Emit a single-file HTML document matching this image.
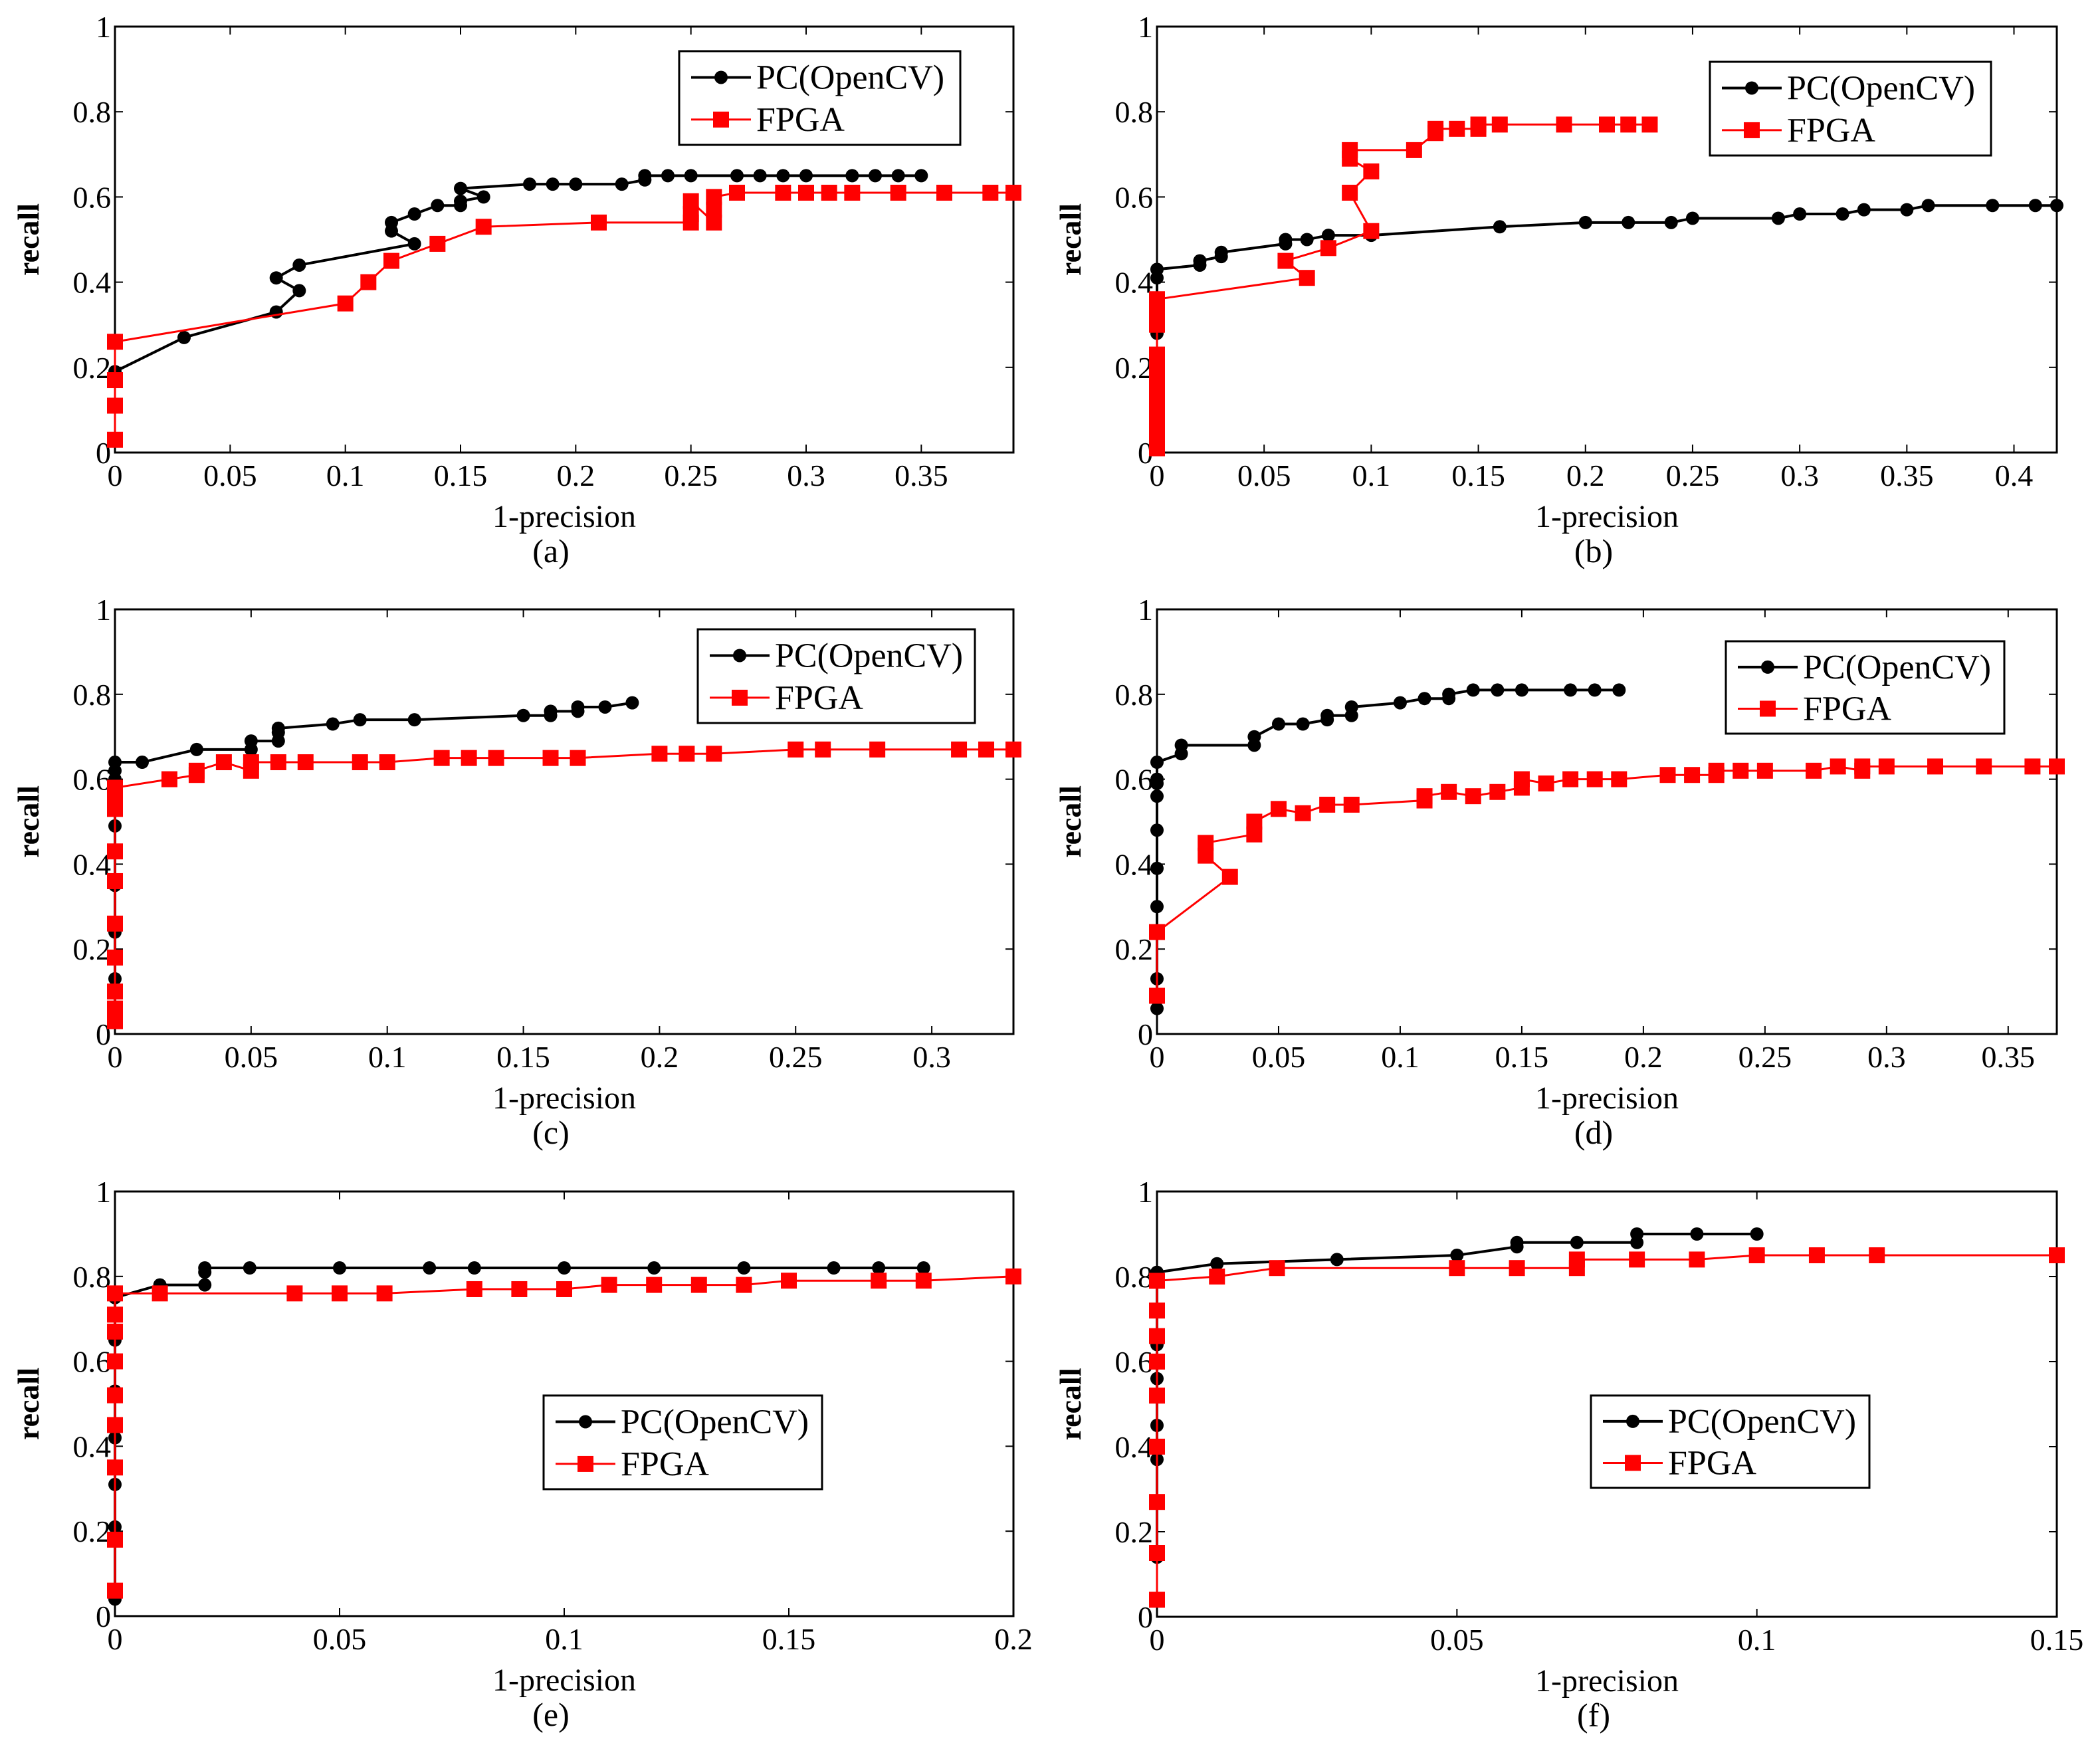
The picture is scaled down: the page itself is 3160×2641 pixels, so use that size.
<!DOCTYPE html>
<html><head><meta charset="utf-8">
<style>
html,body{margin:0;padding:0;background:#fff;}
svg{display:block;font-family:"Liberation Serif",serif;}
</style></head>
<body>
<svg id="fig" width="3160" height="2641" viewBox="0 0 3160 2641" xmlns="http://www.w3.org/2000/svg"></svg>
<script>
// ---- data arrays ----
const yTicks = [0,0.2,0.4,0.6,0.8,1];
const yTickLabels = ["0","0.2","0.4","0.6","0.8","1"];
const seriesNames = ["PC(OpenCV)","FPGA"];

const aXTicks = [0,0.05,0.1,0.15,0.2,0.25,0.3,0.35];
const aPcX = [0,0.03,0.07,0.08,0.07,0.08,0.13,0.12,0.12,0.13,0.14,0.15,0.15,0.16,0.15,0.18,0.19,0.2,0.22,0.23,0.23,0.24,0.25,0.27,0.28,0.29,0.3,0.32,0.33,0.34,0.35];
const aPcY = [0.19,0.27,0.33,0.38,0.41,0.44,0.49,0.52,0.54,0.56,0.58,0.58,0.59,0.6,0.62,0.63,0.63,0.63,0.63,0.64,0.65,0.65,0.65,0.65,0.65,0.65,0.65,0.65,0.65,0.65,0.65];
const aFpX = [0,0,0,0,0.1,0.11,0.12,0.14,0.16,0.21,0.25,0.25,0.25,0.26,0.26,0.26,0.27,0.29,0.3,0.31,0.32,0.34,0.36,0.38,0.39];
const aFpY = [0.03,0.11,0.17,0.26,0.35,0.4,0.45,0.49,0.53,0.54,0.54,0.56,0.59,0.54,0.57,0.6,0.61,0.61,0.61,0.61,0.61,0.61,0.61,0.61,0.61];

const bXTicks = [0,0.05,0.1,0.15,0.2,0.25,0.3,0.35,0.4];
const bPcX = [0,0,0,0.02,0.02,0.03,0.03,0.06,0.06,0.07,0.08,0.1,0.16,0.2,0.22,0.24,0.25,0.29,0.3,0.32,0.33,0.35,0.36,0.39,0.41,0.42];
const bPcY = [0.28,0.41,0.43,0.44,0.45,0.46,0.47,0.49,0.5,0.5,0.51,0.51,0.53,0.54,0.54,0.54,0.55,0.55,0.56,0.56,0.57,0.57,0.58,0.58,0.58,0.58];
const bFpX = [0,0,0,0,0,0,0,0,0,0,0,0,0.07,0.06,0.08,0.1,0.09,0.1,0.09,0.09,0.12,0.13,0.13,0.14,0.15,0.15,0.16,0.19,0.21,0.22,0.23];
const bFpY = [0.01,0.03,0.06,0.09,0.12,0.15,0.18,0.21,0.23,0.3,0.33,0.36,0.41,0.45,0.48,0.52,0.61,0.66,0.69,0.71,0.71,0.75,0.76,0.76,0.76,0.77,0.77,0.77,0.77,0.77,0.77];

const cXTicks = [0,0.05,0.1,0.15,0.2,0.25,0.3];
const cPcX = [0,0,0,0,0,0,0,0,0.01,0.03,0.05,0.05,0.06,0.06,0.06,0.08,0.09,0.11,0.15,0.16,0.16,0.17,0.17,0.18,0.19];
const cPcY = [0.03,0.13,0.24,0.35,0.49,0.6,0.62,0.64,0.64,0.67,0.67,0.69,0.69,0.71,0.72,0.73,0.74,0.74,0.75,0.75,0.76,0.76,0.77,0.77,0.78];
const cFpX = [0,0,0,0,0,0,0,0,0,0,0.02,0.03,0.03,0.04,0.05,0.05,0.06,0.07,0.09,0.1,0.12,0.13,0.14,0.16,0.17,0.2,0.21,0.22,0.25,0.26,0.28,0.31,0.32,0.33];
const cFpY = [0.03,0.06,0.1,0.18,0.26,0.36,0.43,0.53,0.56,0.58,0.6,0.61,0.62,0.64,0.62,0.64,0.64,0.64,0.64,0.64,0.65,0.65,0.65,0.65,0.65,0.66,0.66,0.66,0.67,0.67,0.67,0.67,0.67,0.67];

const dXTicks = [0,0.05,0.1,0.15,0.2,0.25,0.3,0.35];
const dPcX = [0,0,0,0,0,0,0,0,0,0.01,0.01,0.04,0.04,0.05,0.06,0.07,0.07,0.08,0.08,0.1,0.11,0.12,0.12,0.13,0.14,0.15,0.17,0.18,0.19];
const dPcY = [0.06,0.13,0.3,0.39,0.48,0.56,0.59,0.6,0.64,0.66,0.68,0.68,0.7,0.73,0.73,0.74,0.75,0.75,0.77,0.78,0.79,0.79,0.8,0.81,0.81,0.81,0.81,0.81,0.81];
const dFpX = [0,0,0.03,0.02,0.02,0.04,0.04,0.05,0.06,0.07,0.08,0.11,0.11,0.12,0.13,0.14,0.15,0.15,0.16,0.17,0.18,0.19,0.21,0.22,0.23,0.23,0.24,0.25,0.27,0.28,0.29,0.29,0.3,0.32,0.34,0.36,0.37];
const dFpY = [0.09,0.24,0.37,0.42,0.45,0.47,0.5,0.53,0.52,0.54,0.54,0.55,0.56,0.57,0.56,0.57,0.58,0.6,0.59,0.6,0.6,0.6,0.61,0.61,0.61,0.62,0.62,0.62,0.62,0.63,0.62,0.63,0.63,0.63,0.63,0.63,0.63];

const eXTicks = [0,0.05,0.1,0.15,0.2];
const ePcX = [0,0,0,0,0,0,0,0.01,0.02,0.02,0.02,0.03,0.05,0.07,0.08,0.1,0.12,0.14,0.16,0.17,0.18];
const ePcY = [0.04,0.21,0.31,0.42,0.53,0.65,0.75,0.78,0.78,0.81,0.82,0.82,0.82,0.82,0.82,0.82,0.82,0.82,0.82,0.82,0.82];
const eFpX = [0,0,0,0,0,0,0,0,0,0.01,0.04,0.05,0.06,0.08,0.09,0.1,0.11,0.12,0.13,0.14,0.15,0.17,0.18,0.2];
const eFpY = [0.06,0.18,0.35,0.45,0.52,0.6,0.67,0.71,0.76,0.76,0.76,0.76,0.76,0.77,0.77,0.77,0.78,0.78,0.78,0.78,0.79,0.79,0.79,0.8];

const fXTicks = [0,0.05,0.1,0.15];
const fPcX = [0,0,0,0,0,0,0.01,0.03,0.05,0.06,0.06,0.07,0.08,0.08,0.09,0.1];
const fPcY = [0.14,0.37,0.45,0.56,0.64,0.81,0.83,0.84,0.85,0.87,0.88,0.88,0.88,0.9,0.9,0.9];
const fFpX = [0,0,0,0,0,0,0,0,0,0.01,0.02,0.05,0.06,0.07,0.07,0.08,0.09,0.1,0.11,0.12,0.15];
const fFpY = [0.04,0.15,0.27,0.4,0.52,0.6,0.66,0.72,0.79,0.8,0.82,0.82,0.82,0.82,0.84,0.84,0.84,0.85,0.85,0.85,0.85];

// ---- layout ----
const panels = [
 {id:"a",L:173,R:1525,T:40,B:681,xmax:0.39,ticks:aXTicks,pcX:aPcX,pcY:aPcY,fpX:aFpX,fpY:aFpY,leg:[1022,77,423,141]},
 {id:"b",L:1741,R:3095,T:40,B:681,xmax:0.42,ticks:bXTicks,pcX:bPcX,pcY:bPcY,fpX:bFpX,fpY:bFpY,leg:[2573,93,423,141]},
 {id:"c",L:173,R:1525,T:917,B:1556,xmax:0.33,ticks:cXTicks,pcX:cPcX,pcY:cPcY,fpX:cFpX,fpY:cFpY,leg:[1050,947,417,141]},
 {id:"d",L:1741,R:3095,T:917,B:1556,xmax:0.37,ticks:dXTicks,pcX:dPcX,pcY:dPcY,fpX:dFpX,fpY:dFpY,leg:[2597,965,419,139]},
 {id:"e",L:173,R:1525,T:1793,B:2432,xmax:0.2,ticks:eXTicks,pcX:ePcX,pcY:ePcY,fpX:eFpX,fpY:eFpY,leg:[818,2100,419,141]},
 {id:"f",L:1741,R:3095,T:1793,B:2433,xmax:0.15,ticks:fXTicks,pcX:fPcX,pcY:fPcY,fpX:fFpX,fpY:fFpY,leg:[2394,2100,419,139]}
];
const NS="http://www.w3.org/2000/svg";
const svg=document.getElementById('fig');
function mk(tag,attrs,parent){const e=document.createElementNS(NS,tag);for(const k in attrs)e.setAttribute(k,attrs[k]);(parent||svg).appendChild(e);return e;}
function fmt(v){return String(+v.toFixed(3));}

panels.forEach(p=>{
  const g=mk('g',{});
  
  
  const sx=v=>p.L+(v/p.xmax)*(p.R-p.L);
  const sy=v=>p.B-v*(p.B-p.T);
  const box=mk('rect',{x:p.L,y:p.T,width:p.R-p.L,height:p.B-p.T,fill:'#fff',stroke:'#000','stroke-width':3},g);
  
  
  // x ticks
  p.ticks.forEach(t=>{
    const x=sx(t);
    mk('line',{x1:x,y1:p.B,x2:x,y2:p.B-12,stroke:'#000','stroke-width':2},g);
    mk('line',{x1:x,y1:p.T,x2:x,y2:p.T+12,stroke:'#000','stroke-width':2},g);
    const tx=mk('text',{x:x,y:p.B+50,'font-size':46,'text-anchor':'middle'},g);
    tx.textContent=fmt(t);
    
    
  });
  yTicks.forEach((t,i)=>{
    const y=sy(t);
    mk('line',{x1:p.L,y1:y,x2:p.L+12,y2:y,stroke:'#000','stroke-width':2},g);
    mk('line',{x1:p.R,y1:y,x2:p.R-12,y2:y,stroke:'#000','stroke-width':2},g);
    const tx=mk('text',{x:p.L-6,y:y+16,'font-size':46,'text-anchor':'end'},g);
    tx.textContent=yTickLabels[i];
    
    
  });
  const xl=mk('text',{x:(p.L+p.R)/2,y:p.B+112,'font-size':48,'text-anchor':'middle'},g);
  xl.textContent='1-precision';
  
  
  const yl=mk('text',{x:0,y:0,'font-size':46,'font-weight':'bold','text-anchor':'middle',transform:`translate(${p.L-115},${(p.T+p.B)/2}) rotate(-90)`},g);
  yl.textContent='recall';
  
  
  const cap=mk('text',{x:(p.L+p.R)/2-20,y:p.B+165,'font-size':50,'text-anchor':'middle'},g);
  cap.textContent='('+p.id+')';
  
  
  // series
  const fpPts=p.fpX.map((x,i)=>sx(x)+','+sy(p.fpY[i])).join(' ');
  const pcPts=p.pcX.map((x,i)=>sx(x)+','+sy(p.pcY[i])).join(' ');
  const pcLine=mk('polyline',{points:pcPts,fill:'none',stroke:'#000','stroke-width':4},g);
  
  
  p.pcX.forEach((x,i)=>{
    const c=mk('circle',{cx:sx(x),cy:sy(p.pcY[i]),r:10,fill:'#000'},g);
    
    
  });
  const fpLine=mk('polyline',{points:fpPts,fill:'none',stroke:'#f00','stroke-width':3},g);
  
  
  p.fpX.forEach((x,i)=>{
    const r=mk('rect',{x:sx(x)-12,y:sy(p.fpY[i])-12,width:24,height:24,fill:'#f00'},g);
    
    
  });
  // legend
  const [lx,ly,lw,lh]=p.leg;
  const lg=mk('g',{},g);
  
  
  mk('rect',{x:lx,y:ly,width:lw,height:lh,fill:'#fff',stroke:'#000','stroke-width':3},lg);
  const r1=ly+lh*0.28, r2=ly+lh*0.73;
  mk('line',{x1:lx+18,y1:r1,x2:lx+108,y2:r1,stroke:'#000','stroke-width':4},lg);
  mk('circle',{cx:lx+63,cy:r1,r:10,fill:'#000'},lg);
  mk('line',{x1:lx+18,y1:r2,x2:lx+108,y2:r2,stroke:'#f00','stroke-width':3},lg);
  mk('rect',{x:lx+51,y:r2-12,width:24,height:24,fill:'#f00'},lg);
  const t1=mk('text',{x:lx+116,y:r1+17,'font-size':52},lg);
  t1.textContent=seriesNames[0];
  
  
  const t2=mk('text',{x:lx+116,y:r2+17,'font-size':52},lg);
  t2.textContent=seriesNames[1];
  
  
});
</script>
</body></html>
